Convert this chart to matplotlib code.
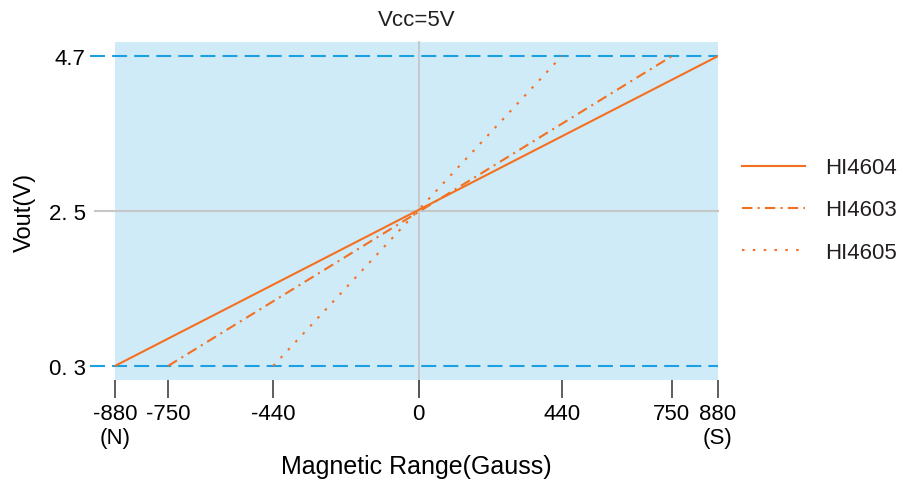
import matplotlib as mpl
import matplotlib.pyplot as plt
import numpy as np

mpl.rcParams['font.family'] = ['Liberation Sans', 'DejaVu Sans']
mpl.rcParams['text.color'] = '#231f20'

# data
series = ['HI4604', 'HI4603', 'HI4605']
gauss_range = [880, 750, 440]          # full-scale field for each sensor
vout_low = 0.3
vout_high = 4.7
vout_mid = 2.5
xtick_vals = [-880, -750, -440, 0, 440, 750, 880]
xtick_labels = ['-880\n(N)', '-750', '-440', '0', '440', '750', '880\n(S)']
ytick_vals = [0.3, 2.5, 4.7]
ytick_labels = ['0. 3', '2. 5', '4.7']

# the original axis is not evenly spaced: where each tick sits along the axis (0..1)
tick_frac = np.array([0, 53, 158, 303, 446, 556, 602]) / 602.0


def fwd(x):
    return np.interp(x, xtick_vals, tick_frac)


def inv(f):
    return np.interp(f, tick_frac, xtick_vals)


orange = '#f47020'
blue_dash = '#1ba1e2'
grey = '#c6c6c6'
dark = '#333333'
styles = ['-', (0, (5, 2.5, 1, 2.5)), (0, (1.2, 4.0))]

fig = plt.figure(figsize=(8.99, 4.81), dpi=100)
ax = fig.add_axes([115/899, 1-381/481, 603/899, 338/481])
ax.set_facecolor('#d0ebf8')
for s in ax.spines.values():
    s.set_visible(False)

ax.set_xscale('function', functions=(fwd, inv))
ax.set_xlim(-880, 880)
ax.set_ylim(0.1, 4.9)

# reference lines
for yv in [vout_low, vout_high]:
    ax.axhline(yv, xmin=-0.042, xmax=1, color=blue_dash, lw=1.5,
               ls=(0, (7.2, 3.4)), clip_on=False, zorder=1)
ax.axhline(vout_mid, xmin=-0.033, xmax=1, color=grey, lw=1.5, clip_on=False, zorder=1)
ax.axvline(0, ymin=-0.047, ymax=1, color=grey, lw=1.3, clip_on=False, zorder=1)

for name, g, st in zip(series, gauss_range, styles):
    ax.plot([-g, g], [vout_low, vout_high], color=orange, lw=1.5, ls=st, label=name, zorder=3)

ax.set_xticks(xtick_vals)
ax.set_xticklabels(xtick_labels, fontsize=16)
ax.minorticks_off()
ax.set_yticks(ytick_vals)
ax.set_yticklabels(ytick_labels, fontsize=16)
ax.tick_params(axis='x', direction='out', length=13, width=1.1, color=dark, pad=3.5)
ax.tick_params(axis='y', length=0, pad=21)
for val, tl in zip(xtick_vals, ax.get_xticklines()[0::2]):
    if val == 0:
        tl.set_color(grey)

ax.set_title('Vcc=5V', fontsize=16, pad=12)
ax.set_xlabel('Magnetic Range(Gauss)', fontsize=18, labelpad=4)
ax.set_ylabel('Vout(V)', fontsize=17, labelpad=9)

fig.legend(loc='center left', bbox_to_anchor=(742/899, 1-211/481), frameon=False,
           fontsize=16, handlelength=2.85, handletextpad=0.9, labelspacing=0.95,
           borderpad=0, borderaxespad=0)

plt.savefig('out.png', dpi=100)
